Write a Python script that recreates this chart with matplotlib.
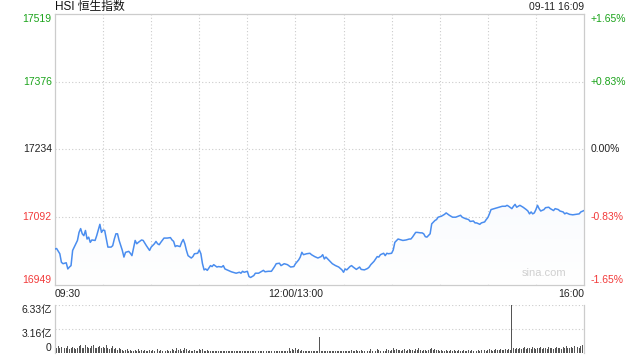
import numpy as np
import matplotlib.pyplot as plt
from matplotlib.patches import Polygon

plt.rcParams['font.family'] = ['Liberation Sans', 'Noto Sans CJK SC', 'DejaVu Sans']

# minutes after 09:30 (lunch removed: 150 = 12:00/13:00, 330 = 16:00)
price_t = [0, 1, 3, 4, 5, 7, 8, 9, 10, 11, 12, 14, 15, 16, 17, 18, 19, 20, 21, 22,
           23, 25, 26, 28, 29, 30, 31, 32, 33, 35, 36, 37, 38, 39, 40, 42, 43, 44, 46, 47,
           48, 50, 51, 52, 54, 55, 57, 59, 60, 62, 63, 64, 65, 66, 68, 70, 72, 73, 74, 75,
           76, 78, 79, 80, 81, 82, 83, 85, 86, 87, 89, 90, 91, 92, 93, 94, 95, 97, 98, 99,
           101, 102, 104, 105, 106, 108, 110, 111, 113, 115, 116, 117, 118, 120, 121, 122, 124, 125, 127, 128,
           130, 131, 133, 135, 137, 138, 140, 141, 143, 145, 147, 149, 150, 152, 153, 154, 155, 157, 159, 160,
           162, 164, 166, 167, 168, 169, 171, 173, 175, 177, 179, 180, 181, 182, 184, 185, 186, 188, 190, 191,
           193, 195, 196, 197, 199, 201, 202, 203, 205, 206, 207, 208, 210, 211, 212, 214, 216, 217, 219, 221,
           222, 223, 225, 226, 228, 229, 230, 231, 232, 234, 235, 237, 238, 239, 241, 242, 243, 244, 246, 247,
           248, 250, 253, 254, 256, 258, 259, 261, 262, 263, 265, 266, 268, 269, 270, 271, 272, 274, 276, 279,
           281, 282, 283, 285, 286, 287, 288, 290, 291, 292, 294, 295, 296, 297, 298, 299, 300, 301, 302, 303,
           305, 306, 308, 309, 311, 312, 314, 315, 317, 318, 319, 321, 323, 325, 327, 328, 330]
price_v = [17024, 17025, 17014, 16996, 16993, 16995, 16982, 16986, 16989, 17021, 17028, 17042, 17059, 17067, 17056, 17052, 17063, 17045, 17049, 17038,
           17043, 17042, 17052, 17076, 17059, 17064, 17063, 17045, 17028, 17028, 17031, 17045, 17056, 17056, 17042, 17021, 17007, 17017, 17019, 17015,
           17010, 17042, 17035, 17038, 17043, 17042, 17031, 17021, 17028, 17035, 17040, 17035, 17033, 17038, 17047, 17047, 17048, 17043, 17040, 17029,
           17031, 17029, 17038, 17044, 17035, 17021, 17010, 17005, 17008, 17014, 17015, 17022, 17014, 16993, 16980, 16982, 16979, 16989, 16987, 16991,
           16986, 16987, 16986, 16989, 16982, 16979, 16976, 16975, 16973, 16975, 16973, 16977, 16975, 16977, 16966, 16964, 16968, 16973, 16973, 16975,
           16979, 16976, 16977, 16977, 16987, 16993, 16994, 16989, 16993, 16991, 16986, 16987, 16993, 17001, 17007, 17017, 17012, 17014, 17015, 17012,
           17008, 17005, 17008, 17012, 17003, 17007, 17000, 16993, 16989, 16986, 16980, 16975, 16982, 16980, 16987, 16989, 16986, 16981, 16986, 16981,
           16980, 16983, 16986, 16991, 16998, 17008, 17007, 17012, 17015, 17010, 17015, 17014, 17015, 17022, 17038, 17045, 17043, 17042, 17043, 17045,
           17045, 17049, 17059, 17059, 17058, 17058, 17056, 17050, 17049, 17056, 17077, 17084, 17086, 17091, 17093, 17095, 17097, 17100, 17095, 17093,
           17091, 17091, 17095, 17091, 17088, 17086, 17082, 17083, 17079, 17079, 17076, 17079, 17081, 17086, 17090, 17098, 17107, 17109, 17111, 17114,
           17114, 17116, 17114, 17109, 17114, 17118, 17112, 17116, 17114, 17112, 17107, 17104, 17098, 17102, 17098, 17100, 17107, 17116, 17109, 17104,
           17107, 17111, 17112, 17109, 17105, 17109, 17107, 17104, 17102, 17098, 17100, 17097, 17096, 17097, 17098, 17102, 17105]

# per-minute turnover, 亿
vol_am = [3.40, 0.70, 0.90, 0.60, 0.80, 0.50, 0.70, 0.60, 0.90, 0.50,
          0.60, 0.80, 0.70, 0.50, 0.60, 0.90, 1.00, 0.70, 0.60, 1.10,
          0.80, 0.70, 0.60, 0.90, 1.00, 0.60, 0.70, 0.80, 0.90, 0.60,
          0.80, 0.60, 1.00, 0.70, 0.50, 0.60, 0.90, 0.50, 0.60, 0.40,
          0.70, 0.50, 0.40, 0.30, 0.40, 0.50, 0.30, 0.40, 0.30, 0.30,
          0.40, 0.30, 0.50, 0.30, 0.40, 0.30, 0.40, 0.30, 0.30, 0.40,
          0.30, 0.40, 0.30, 0.30, 0.50, 0.30, 0.40, 0.30, 0.30, 0.30,
          0.40, 0.30, 0.30, 0.50, 0.40, 0.30, 0.60, 0.40, 0.50, 0.30,
          0.40, 0.60, 0.50, 0.30, 0.40, 0.30, 0.30, 0.40, 0.30, 0.30,
          0.50, 0.40, 0.50, 0.30, 0.30, 0.40, 0.30, 0.30, 0.20, 0.30,
          0.30, 0.20, 0.30, 0.30, 0.20, 0.20, 0.30, 0.20, 0.30, 0.20,
          0.20, 0.30, 0.20, 0.20, 0.30, 0.20, 0.20, 0.30, 0.20, 0.20,
          0.20, 0.30, 0.20, 0.30, 0.20, 0.20, 0.30, 0.20, 0.20, 0.20,
          0.30, 0.20, 0.20, 0.30, 0.20, 0.20, 0.30, 0.20, 0.30, 0.20,
          0.20, 0.30, 0.20, 0.20, 0.30, 0.30, 0.60, 0.30, 0.50, 0.40,
          0.60]
vol_pm = [0.40, 0.50, 0.30, 0.40, 0.30, 0.30, 0.30, 0.20, 0.30, 0.30,
          0.20, 0.30, 0.30, 0.20, 2.10, 0.30, 0.30, 0.20, 0.30, 0.30,
          0.20, 0.30, 0.20, 0.30, 0.30, 0.20, 0.30, 0.20, 0.30, 0.20,
          0.30, 0.30, 0.20, 0.30, 0.40, 0.30, 0.30, 0.40, 0.30, 0.30,
          0.40, 0.30, 0.30, 0.40, 0.30, 0.30, 0.50, 0.30, 0.40, 0.30,
          0.50, 0.40, 0.30, 0.40, 0.30, 0.30, 0.50, 0.40, 0.30, 0.40,
          0.60, 0.40, 0.50, 0.40, 0.40, 0.30, 0.40, 0.50, 0.30, 0.40,
          0.50, 0.40, 0.40, 0.30, 0.50, 0.40, 0.60, 0.40, 0.30, 0.40,
          0.40, 0.30, 0.40, 0.50, 0.60, 0.40, 0.50, 0.40, 0.40, 0.30,
          0.40, 0.30, 0.30, 0.40, 0.30, 0.30, 0.40, 0.30, 0.40, 0.30,
          0.30, 0.40, 0.30, 0.30, 0.40, 0.30, 0.30, 0.40, 0.30, 0.40,
          0.30, 0.40, 0.30, 0.40, 0.30, 0.40, 0.50, 0.40, 0.30, 0.40,
          0.50, 0.40, 0.30, 0.40, 0.50, 0.40, 0.40, 0.50, 0.40, 0.40,
          0.50, 0.40, 0.50, 0.40, 6.33, 0.60, 0.50, 0.60, 0.50, 0.70,
          0.50, 0.60, 0.80, 0.50, 0.70, 0.60, 0.50, 0.80, 0.60, 0.50,
          0.70, 0.60, 0.80, 0.50, 0.60, 0.70, 0.50, 0.80, 0.60, 0.70,
          0.50, 0.70, 0.80, 0.60, 0.70, 0.50, 0.80, 0.60, 0.90, 0.70,
          0.60, 0.80, 0.70, 0.90, 0.60, 0.80, 0.70, 0.90, 1.00, 4.35]

price_ticks = [17519, 17376, 17234, 17092, 16949]
pct_labels = ['+1.65%', '+0.83%', '0.00%', '-0.83%', '-1.65%']
tick_colors = ['#1aa31a', '#1aa31a', '#222222', '#f23a3a', '#f23a3a']
vol_ticks = [6.33, 3.16, 0]
vol_labels = ['6.33亿', '3.16亿', '0']
x_labels = ['09:30', '12:00/13:00', '16:00']
x_label_pos = [0, 150, 330]

GRID = '#cccccc'
fig = plt.figure(figsize=(6.4, 3.6), dpi=100)
ax = fig.add_axes([55 / 640, 1 - 284.6 / 360, 529 / 640, 270.6 / 360])
axv = fig.add_axes([55 / 640, 1 - 353 / 360, 529 / 640, 48 / 360])

t = np.array(price_t)
v = np.array(price_v)
ymin, ymax = price_ticks[-1], price_ticks[0]
ax.set_xlim(0, 330)
ax.set_ylim(ymin, ymax)

# gradient fill under the line
grad = np.linspace(0, 1, 256).reshape(-1, 1)
img = ax.imshow(grad, extent=[0, 330, ymin, ymax], origin='lower', aspect='auto',
                cmap=plt.matplotlib.colors.LinearSegmentedColormap.from_list(
                    'g', ['#ffffff', '#edf3fd']), zorder=1)
poly = Polygon(np.column_stack([np.r_[t, t[-1], t[0]], np.r_[v, ymin, ymin]]),
               closed=True, facecolor='none', edgecolor='none')
ax.add_patch(poly)
img.set_clip_path(poly)
ax.plot(t, v, color='#4a8def', lw=1.1, zorder=3)

for gx in range(30, 330, 30):
    ax.axvline(gx, color=GRID, ls=(0, (1, 2)), lw=0.8, zorder=0)
for gy in price_ticks[1:-1]:
    ax.axhline(gy, color=GRID, ls=(0, (1, 2)), lw=0.8, zorder=0)
for s in ax.spines.values():
    s.set_color(GRID)
    s.set_linewidth(0.9)
ax.set_xticks([])
ax.set_yticks([])

for i, (p, lab, c) in enumerate(zip(price_ticks, pct_labels, tick_colors)):
    va = 'top' if i == 0 else ('bottom' if i == len(price_ticks) - 1 else 'center')
    ax.text(-0.006, p, str(p), transform=ax.get_yaxis_transform(), ha='right', va=va,
            color=c, fontsize=7.5)
    ax.text(1.012, p, lab, transform=ax.get_yaxis_transform(), ha='left', va=va,
            color=c, fontsize=7.5)

for xp, lab in zip(x_label_pos, x_labels):
    ha = 'left' if xp == 0 else ('right' if xp == 330 else 'center')
    ax.text(xp, -0.015, lab, transform=ax.get_xaxis_transform(), ha=ha, va='top',
            fontsize=7.5, color='#222222')

fig.text(55 / 640, 1 - 7 / 360, 'HSI 恒生指数', ha='left', va='center',
         fontsize=8.5, color='#111111')
fig.text(584 / 640, 1 - 7 / 360, '09-11 16:09', ha='right', va='center',
         fontsize=7.5, color='#222222')
ax.text(0.925, 0.025, 'sina.com', transform=ax.transAxes, ha='center', va='bottom',
        fontsize=8, color='#d0d0d0')

# volume panel
vol = vol_am + vol_pm
axv.bar(np.arange(len(vol)), vol, width=0.6, color='#555555', zorder=2)
axv.set_xlim(0, 330)
axv.set_ylim(0, vol_ticks[0])
for gy in vol_ticks[:-1]:
    axv.axhline(gy, color=GRID, ls=(0, (1, 2)), lw=0.8, zorder=0)
axv.spines['top'].set_visible(False)
axv.spines['bottom'].set_visible(False)
for s in ['left', 'right']:
    axv.spines[s].set_color(GRID)
    axv.spines[s].set_linewidth(0.9)
axv.set_xticks([])
axv.set_yticks([])
for i, (vt, lab) in enumerate(zip(vol_ticks, vol_labels)):
    va = 'bottom' if i == len(vol_ticks) - 1 else 'top'
    axv.text(-0.006, vt, lab, transform=axv.get_yaxis_transform(), ha='right', va=va,
             fontsize=7.5, color='#222222')

fig.savefig('out.png', dpi=100)
